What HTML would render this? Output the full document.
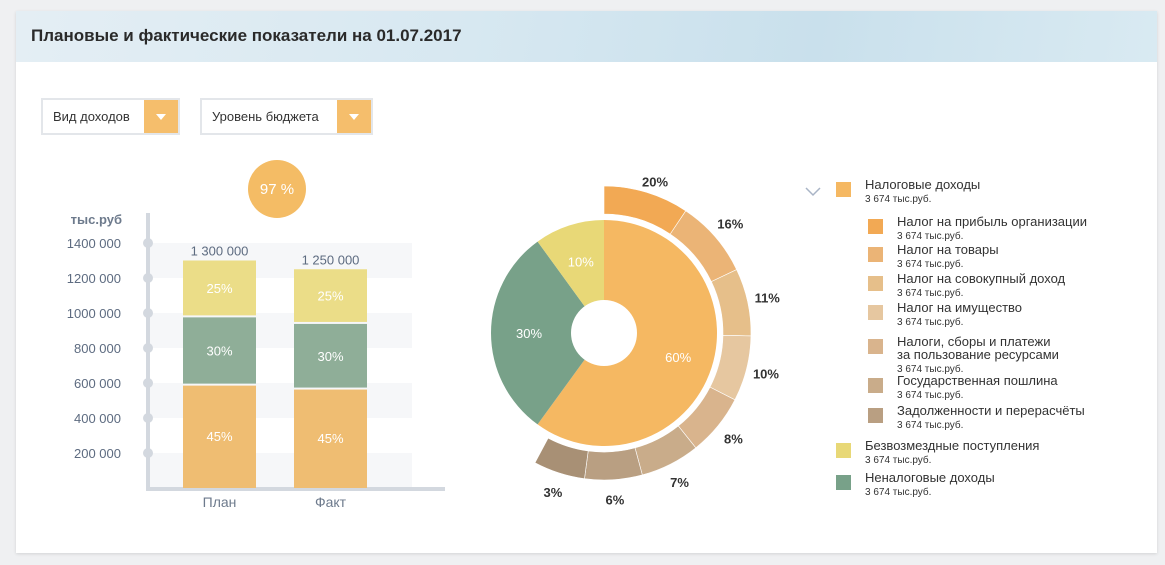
<!DOCTYPE html>
<html><head><meta charset="utf-8">
<style>
body{margin:0;width:1165px;height:565px;background:#eff0f2;font-family:"Liberation Sans",sans-serif;overflow:hidden;position:relative}
.card{position:absolute;left:16px;top:11px;width:1141px;height:542px;background:#fff;box-shadow:0 1px 3px rgba(0,0,0,.12)}
.hdr{position:absolute;left:0;top:0;width:1141px;height:51px;background:linear-gradient(100deg,#e4eef4 0%,#d7e8f1 40%,#c9e0ec 70%,#d9eaf2 100%)}
.hdr h1{margin:0;position:absolute;left:15px;top:15px;font-size:17px;font-weight:bold;color:#2a2a2a}
.dd{position:absolute;top:98px;height:33px;border:2px solid #e3e6ea;background:#fff;font-size:13px;color:#333}
.dd span{position:absolute;left:10px;top:9px}
.dd .ar{position:absolute;right:0;top:0;width:34px;height:33px;background:#f5be6c}
.dd .ar:after{content:"";position:absolute;left:12px;top:14px;border-left:5px solid transparent;border-right:5px solid transparent;border-top:6px solid #fff}
</style></head><body>
<div class="card">
<div class="hdr"><h1>Плановые и фактические показатели на 01.07.2017</h1></div>
</div>
<div class="dd" style="left:41px;width:135px"><span>Вид доходов</span><div class="ar"></div></div>
<div class="dd" style="left:200px;width:169px"><span>Уровень бюджета</span><div class="ar"></div></div>
<svg id="svg" width="1165" height="565" style="position:absolute;left:0;top:0" font-family="Liberation Sans, sans-serif"></svg>
<script>
const barCats=["План","Факт"];
const barTotals=[1300000,1250000];
const barTotalLabels=["1  300 000","1  250 000"];
const segShares=[45,30,25];
const yTicks=[200000,400000,600000,800000,1000000,1200000,1400000];
const yTickLabels=["200 000","400 000","600 000","800 000","1000 000","1200 000","1400 000"];
const pieValues=[60,30,10];
const pieLabels=["60%","30%","10%"];
const ringValues=[20,16,11,10,8,7,6,3];
const legendNames=["Налог на прибыль организации","Налог на товары","Налог на совокупный доход","Налог на имущество","Налоги, сборы и платежи|за пользование ресурсами","Государственная пошлина","Задолженности и перерасчёты"];

const NS="http://www.w3.org/2000/svg",svg=document.getElementById('svg');
function mk(t,a,txt,p){const e=document.createElementNS(NS,t);for(const k in a)e.setAttribute(k,a[k]);if(txt!=null)e.textContent=txt;(p||svg).appendChild(e);return e;}
const y0=488,y1=243,vMax=1400000;
const yS=v=>y0-(y0-y1)*v/vMax;
const bandPairs=[[0,200000],[400000,600000],[800000,1000000],[1200000,1400000]];
bandPairs.forEach(p=>{const b=mk('rect',{x:150,y:yS(p[1]),width:262,height:yS(p[0])-yS(p[1]),fill:'#f6f7f9'});

});
const ax=mk('path',{d:'M148 213 V489 H445',stroke:'#d3d8df','stroke-width':4,fill:'none'});


const yt=mk('text',{x:122,y:224,'text-anchor':'end','font-size':13,'font-weight':'bold',fill:'#6d7a8c'},'тыс.руб');


yTicks.forEach((v,i)=>{const c=mk('circle',{cx:148,cy:yS(v),r:5,fill:'#d3d8df'});


const t=mk('text',{x:121,y:yS(v)+5,'text-anchor':'end','font-size':13,fill:'#5d6b80'},yTickLabels[i]);

});
const segCols=['#efbd72','#8fae98','#ebdd88'];
const barX=[183,294],bw=73;
barCats.forEach((c,i)=>{let acc=0;segShares.forEach((s,j)=>{const lo=barTotals[i]*acc/100,hi=barTotals[i]*(acc+s)/100;acc+=s;
const yt=yS(hi),yb=yS(lo);const r=mk('rect',{x:barX[i],y:yt,width:bw,height:yb-yt-(j>0?2:0),fill:segCols[j]});


const t=mk('text',{x:barX[i]+bw/2,y:(yt+yb)/2+4,'text-anchor':'middle','font-size':13,fill:'#fff'},s+'%');

});
const tl=mk('text',{x:barX[i]+bw/2,y:yS(barTotals[i])-5,'text-anchor':'middle','font-size':13,fill:'#5d6b80'},barTotalLabels[i]);


const xl=mk('text',{x:barX[i]+bw/2,y:507,'text-anchor':'middle','font-size':14,fill:'#6d7a8c'},c);

});
const bub=mk('circle',{cx:277,cy:189,r:29,fill:'#f4bc65'});


const bt=mk('text',{x:277,y:194,'text-anchor':'middle','font-size':15,fill:'#fff'},'97 %');


// donut
const cx=604,cy=333;
const pt=(r,a)=>[cx+r*Math.sin(a*Math.PI/180),cy-r*Math.cos(a*Math.PI/180)];
function arc(r0,r1,a0,a1){const l=a1-a0>180?1:0;const p=[pt(r1,a0),pt(r1,a1),pt(r0,a1),pt(r0,a0)];
return `M${p[0]} A${r1} ${r1} 0 ${l} 1 ${p[1]} L${p[2]} A${r0} ${r0} 0 ${l} 0 ${p[3]}Z`;}
const pieCols=['#f5b862','#78a189','#e8d877'];
const pTot=pieValues.reduce((a,b)=>a+b,0);let a=0;
pieValues.forEach((v,i)=>{const s=a,e=a+v/pTot*360;a=e;
const p=mk('path',{d:arc(0.01,113,s,e),fill:pieCols[i]});


const m=(s+e)/2,q=pt(i==0?78:75,m);
const t=mk('text',{x:q[0],y:q[1]+5,'text-anchor':'middle','font-size':13,fill:'#fff'},pieLabels[i]);

});
const hole=mk('circle',{cx:cx,cy:cy,r:33,fill:'#fff'});


const ringCols=['#f2a954','#ebb476','#e6bf8a','#e6c7a0','#d9b48d','#c9ac8a','#b99f82','#a89075'];
const rTot=ringValues.reduce((a,b)=>a+b,0),span=208,base=18;
const k=(span-base*ringValues.length)/rTot;a=0;
ringValues.forEach((v,i)=>{const s=a,e=a+base+v*k;a=e;
const p=mk('path',{d:arc(119,147,s,e),fill:ringCols[i],stroke:'#fff','stroke-width':0.6});


const q=pt(i==0?160:167,i==0?s+(e-s)*0.55:(s+e)/2);
const t=mk('text',{x:q[0],y:q[1]+5,'text-anchor':'middle','font-size':13,'font-weight':'bold',fill:'#333'},v+'%');

});
// legend
function legend(x,y,col,name){const r=mk('rect',{x:x,y:y,width:15,height:15,fill:col});


const lines=name.split('|');lines.forEach((l,k)=>{const t=mk('text',{x:x+29,y:y+7+k*13,'font-size':13,fill:'#333'},l);

});
const s=mk('text',{x:x+29,y:y+7+lines.length*13,'font-size':10,fill:'#333'},'3 674 тыс.руб.');

}
const chev=mk('path',{d:'M806 188 L813 195 L820 188',stroke:'#a9b4c6','stroke-width':1.5,fill:'none'});


legend(836,182,'#f5b862','Налоговые доходы');
const ly=[219,247,276,305,339,378,408];
legendNames.forEach((n,i)=>legend(868,ly[i],ringCols[i],n));
legend(836,443,'#e8d877','Безвозмездные поступления');
legend(836,475,'#78a189','Неналоговые доходы');
</script>
</body></html>
